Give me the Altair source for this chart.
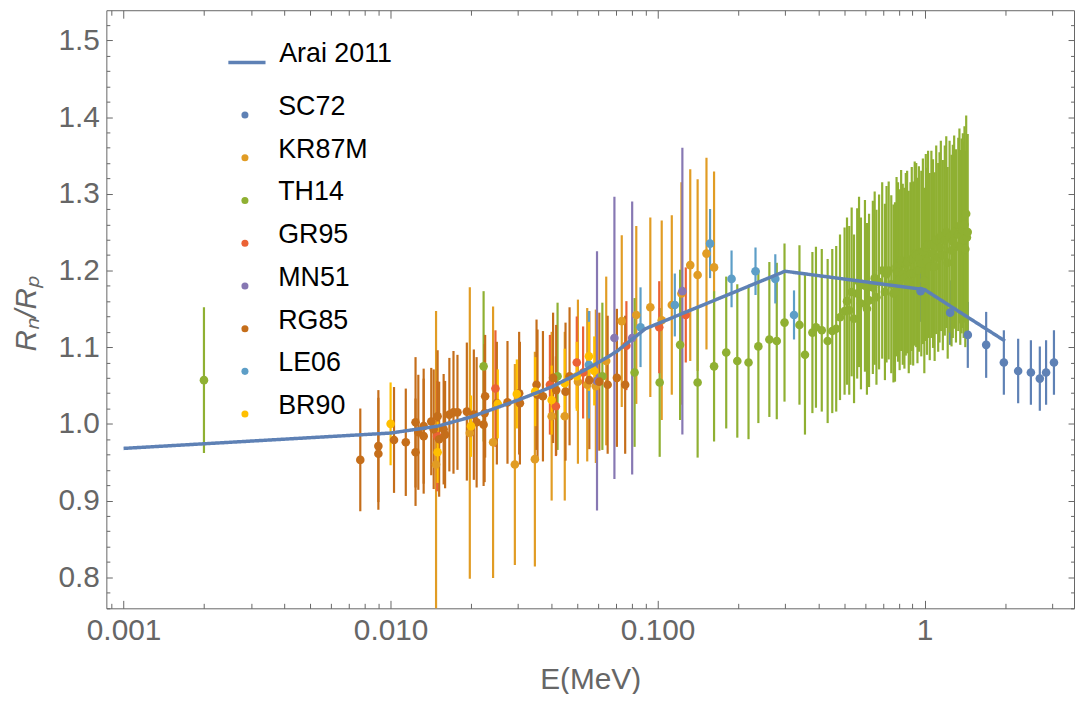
import altair as alt
import pandas as pd

# ---------------- data ----------------
SETS = ["SC72", "KR87M", "TH14", "GR95", "MN51", "RG85", "LE06", "BR90"]
COLORS = ["#5E81B5", "#E19C24", "#8FB032", "#EB6235", "#8778B3", "#C56E1A", "#5D9EC7", "#FFBF00"]

SC72_E = [0.966, 1.246, 1.451, 1.70, 1.98, 2.24, 2.50, 2.70, 2.85, 3.05]
SC72_R = [1.173, 1.145, 1.116, 1.103, 1.080, 1.069, 1.067, 1.059, 1.067, 1.080]
SC72_ERR = [0.040, 0.042, 0.043, 0.043, 0.042, 0.042, 0.042, 0.042, 0.042, 0.042]

KR87M_E = [0.0148, 0.0198, 0.0242, 0.0292, 0.0347, 0.0401, 0.0449, 0.0503, 0.0545, 0.0587,
           0.0642, 0.0734, 0.0832, 0.0939, 0.1036, 0.113, 0.1228, 0.1325, 0.1412, 0.1524, 0.1627]
KR87M_R = [0.947, 0.988, 0.976, 0.947, 0.954, 1.010, 1.010, 1.055, 1.051, 1.049,
           1.082, 1.134, 1.142, 1.152, 1.135, 1.155, 1.170, 1.207, 1.194, 1.222, 1.204]
KR87M_ERR = [0.200, 0.190, 0.177, 0.131, 0.140, 0.110, 0.110, 0.107, 0.100, 0.100,
             0.110, 0.112, 0.116, 0.117, 0.130, 0.117, 0.145, 0.125, 0.125, 0.125, 0.125]

TH14_E = [0.002, 0.0223, 0.0422, 0.0621, 0.082, 0.1018, 0.1214, 0.1412, 0.1627, 0.1807,
          0.1988, 0.219, 0.2384, 0.2621, 0.2794, 0.2987, 0.3398, 0.3563, 0.3799, 0.3917,
          0.4119, 0.4333, 0.4509, 0.4665, 0.482, 0.5014, 0.512, 0.522, 0.533, 0.544,
          0.559, 0.568, 0.5774, 0.5977, 0.608, 0.6192, 0.6398, 0.650, 0.660, 0.675,
          0.6935, 0.710, 0.720, 0.7335, 0.750, 0.7642, 0.7744, 0.785, 0.795, 0.806,
          0.8166, 0.828, 0.840, 0.850, 0.860, 0.872, 0.885, 0.895, 0.906, 0.918,
          0.930, 0.940, 0.952, 0.9716, 0.985, 0.9973, 1.010, 1.020, 1.030, 1.045,
          1.060, 1.075, 1.090, 1.105, 1.124, 1.137, 1.150, 1.170, 1.190, 1.205,
          1.220, 1.240, 1.261, 1.275, 1.290, 1.310, 1.3366, 1.350, 1.360, 1.375,
          1.390, 1.400, 1.410, 1.420, 1.431, 1.440, 1.450]
TH14_R = [1.057, 1.075, 1.062, 1.062, 1.067, 1.054, 1.103, 1.054, 1.075, 1.093,
          1.082, 1.080, 1.101, 1.110, 1.108, 1.132, 1.129, 1.090, 1.119, 1.126,
          1.122, 1.108, 1.121, 1.124, 1.139, 1.147, 1.160, 1.148, 1.172, 1.137,
          1.170, 1.185, 1.157, 1.180, 1.150, 1.161, 1.178, 1.190, 1.165, 1.185,
          1.200, 1.172, 1.195, 1.200, 1.182, 1.170, 1.172, 1.205, 1.198, 1.188,
          1.213, 1.195, 1.190, 1.208, 1.211, 1.185, 1.196, 1.215, 1.196, 1.222,
          1.220, 1.200, 1.215, 1.209, 1.225, 1.187, 1.230, 1.212, 1.234, 1.205,
          1.234, 1.222, 1.205, 1.240, 1.217, 1.230, 1.245, 1.220, 1.239, 1.250,
          1.210, 1.244, 1.226, 1.238, 1.250, 1.232, 1.247, 1.258, 1.230, 1.245,
          1.252, 1.240, 1.260, 1.228, 1.274, 1.243, 1.250]
TH14_ERR = [0.095, 0.098, 0.096, 0.096, 0.097, 0.097, 0.098, 0.098, 0.098, 0.099,
            0.100, 0.100, 0.100, 0.101, 0.102, 0.103, 0.104, 0.104, 0.105, 0.105,
            0.106, 0.107, 0.107, 0.108, 0.108, 0.109, 0.109, 0.110, 0.110, 0.110,
            0.111, 0.111, 0.112, 0.112, 0.112, 0.113, 0.113, 0.113, 0.114, 0.114,
            0.115, 0.115, 0.115, 0.116, 0.116, 0.116, 0.117, 0.117, 0.117, 0.118,
            0.118, 0.118, 0.118, 0.119, 0.119, 0.119, 0.119, 0.120, 0.120, 0.120,
            0.120, 0.121, 0.121, 0.121, 0.121, 0.121, 0.122, 0.122, 0.122, 0.122,
            0.122, 0.123, 0.123, 0.123, 0.123, 0.124, 0.124, 0.124, 0.124, 0.125,
            0.125, 0.125, 0.125, 0.126, 0.126, 0.126, 0.126, 0.127, 0.127, 0.127,
            0.127, 0.128, 0.128, 0.128, 0.128, 0.128, 0.128]

GR95_E = [0.01495, 0.0247, 0.0395, 0.0416, 0.0498, 0.0526, 0.0764, 0.1014, 0.1275]
GR95_R = [0.984, 1.046, 1.051, 1.023, 1.080, 1.067, 1.102, 1.126, 1.142]
GR95_ERR = [0.072, 0.076, 0.065, 0.065, 0.060, 0.060, 0.058, 0.060, 0.062]

MN51_E = [0.0593, 0.0689, 0.0803, 0.1238]
MN51_R = [1.056, 1.112, 1.112, 1.173]
MN51_ERR = [0.169, 0.184, 0.178, 0.187]

RG85_E = [0.0077, 0.009, 0.009, 0.0103, 0.0114, 0.0124, 0.0124, 0.0127, 0.0133, 0.0133,
          0.0142, 0.0145, 0.015, 0.0152, 0.0158, 0.016, 0.0166, 0.0172, 0.0178, 0.0193,
          0.0205, 0.021, 0.0223, 0.0225, 0.0226, 0.025, 0.0274, 0.0303, 0.0305, 0.0352,
          0.0355, 0.0372, 0.0406, 0.0417, 0.0452, 0.0468, 0.0555, 0.0605, 0.065, 0.0704,
          0.0756]
RG85_R = [0.953, 0.971, 0.961, 0.979, 0.976, 1.002, 0.963, 0.989, 0.984, 0.997,
          1.003, 0.993, 1.010, 0.980, 0.993, 0.986, 1.012, 1.015, 1.015, 1.016,
          1.012, 1.002, 0.999, 1.014, 1.036, 1.027, 1.028, 1.040, 1.027, 1.051,
          1.038, 1.036, 1.060, 1.044, 1.042, 1.062, 1.057, 1.055, 1.051, 1.060,
          1.051]
RG85_ERR = [0.067, 0.073, 0.073, 0.069, 0.070, 0.085, 0.070, 0.075, 0.075, 0.075,
            0.070, 0.078, 0.086, 0.075, 0.072, 0.070, 0.074, 0.080, 0.075, 0.090,
            0.085, 0.085, 0.080, 0.090, 0.080, 0.080, 0.080, 0.080, 0.080, 0.085,
            0.085, 0.085, 0.085, 0.085, 0.090, 0.090, 0.090, 0.090, 0.090, 0.090,
            0.090]

LE06_E = [0.0553, 0.0863, 0.116, 0.1572, 0.1892, 0.2326, 0.2759, 0.3242]
LE06_R = [1.077, 1.126, 1.155, 1.235, 1.189, 1.199, 1.189, 1.142]
LE06_ERR = [0.070, 0.052, 0.041, 0.045, 0.037, 0.031, 0.032, 0.032]

BR90_E = [0.010, 0.015, 0.020, 0.0252, 0.0297, 0.0348, 0.0401, 0.0449, 0.0498, 0.0553, 0.0579]
BR90_R = [1.000, 0.963, 0.997, 1.026, 1.039, 1.042, 1.031, 1.053, 1.062, 1.088, 1.069]
BR90_ERR = [0.054, 0.040, 0.040, 0.045, 0.045, 0.045, 0.045, 0.045, 0.045, 0.045, 0.045]

ARAI_E = [0.001, 0.01, 0.015, 0.02, 0.03, 0.04, 0.05, 0.06, 0.07, 0.09, 0.3, 1.0, 2.0]
ARAI_R = [0.968, 0.988, 0.997, 1.009, 1.031, 1.048, 1.065, 1.080, 1.094, 1.124, 1.199, 1.175, 1.108]

X_TICKS = [0.0009, 0.001, 0.002, 0.003, 0.004, 0.005, 0.006, 0.007, 0.008, 0.009,
           0.01, 0.02, 0.03, 0.04, 0.05, 0.06, 0.07, 0.08, 0.09,
           0.1, 0.2, 0.3, 0.4, 0.5, 0.6, 0.7, 0.8, 0.9, 1, 2, 3]
Y_TICKS = [0.76, 0.78, 0.8, 0.82, 0.84, 0.86, 0.88, 0.9, 0.92, 0.94, 0.96, 0.98,
           1.0, 1.02, 1.04, 1.06, 1.08, 1.1, 1.12, 1.14, 1.16, 1.18, 1.2, 1.22, 1.24,
           1.26, 1.28, 1.3, 1.32, 1.34, 1.36, 1.38, 1.4, 1.42, 1.44, 1.46, 1.48, 1.5, 1.52]

# ---------------- tables ----------------
series = {
    "SC72": (SC72_E, SC72_R, SC72_ERR),
    "KR87M": (KR87M_E, KR87M_R, KR87M_ERR),
    "TH14": (TH14_E, TH14_R, TH14_ERR),
    "GR95": (GR95_E, GR95_R, GR95_ERR),
    "MN51": (MN51_E, MN51_R, MN51_ERR),
    "RG85": (RG85_E, RG85_R, RG85_ERR),
    "LE06": (LE06_E, LE06_R, LE06_ERR),
    "BR90": (BR90_E, BR90_R, BR90_ERR),
}
frames = []
for name in SETS:
    e, r, err = series[name]
    frames.append(pd.DataFrame({"E": e, "R": r, "err": err, "set": name}))
df = pd.concat(frames, ignore_index=True)
df["lo"] = df["R"] - df["err"]
df["hi"] = df["R"] + df["err"]
line_df = pd.DataFrame({"E": ARAI_E, "R": ARAI_R, "model": "Arai 2011"})

# ---------------- styling ----------------
FONT = "Liberation Sans"
GRAY = "#666666"
x_scale = alt.Scale(type="log", domain=[0.000862, 3.626], nice=False)
y_scale = alt.Scale(domain=[0.7595, 1.5393], nice=False, zero=False)

X_MAJOR = "abs(log(datum.value)/LN10 - round(log(datum.value)/LN10)) < 1e-6"
Y_MAJOR = "abs(datum.value*10 - round(datum.value*10)) < 1e-6"


def x_axis(orient, labels):
    kw = dict(
        orient=orient, values=X_TICKS, domain=False, grid=False,
        tickSize={"condition": {"test": X_MAJOR, "value": -8}, "value": -5},
        tickColor=GRAY, tickWidth=1,
    )
    if labels:
        kw.update(
            labelExpr=X_MAJOR + " ? (datum.value >= 1 ? format(datum.value, 'd') : format(datum.value, '.3f')) : ''",
            labelFont=FONT, labelFontSize=30, labelColor=GRAY, labelPadding=15,
            labelOverlap=False, labelFlush=False, labelBound=False,
            title="E(MeV)", titleFont=FONT, titleFontSize=30, titleFontWeight="normal",
            titleColor=GRAY, titleX=487, titleY=72, titleBaseline="middle",
        )
    else:
        kw.update(labels=False, title=None)
    return alt.Axis(**kw)


def y_axis(orient, labels):
    kw = dict(
        orient=orient, values=Y_TICKS, domain=False, grid=False,
        tickSize={"condition": {"test": Y_MAJOR, "value": -6}, "value": -3.5},
        tickColor=GRAY, tickWidth=1,
    )
    if labels:
        kw.update(
            labelExpr=Y_MAJOR + " ? format(datum.value, '.1f') : ''",
            labelFont=FONT, labelFontSize=30, labelColor=GRAY, labelPadding=13,
            labelOverlap=False, labelFlush=False, labelBound=False,
            title="Rₙ/Rₚ", titleFont=FONT, titleFontSize=30, titleFontWeight="normal",
            titleFontStyle="italic", titleColor=GRAY, titleX=-80, titleY=305,
            titleBaseline="middle", titleAngle=270,
        )
    else:
        kw.update(labels=False, title=None)
    return alt.Axis(**kw)


color_enc = alt.Color(
    "set:N",
    scale=alt.Scale(domain=SETS, range=COLORS),
    legend=alt.Legend(
        orient="none", legendX=126, legendY=92, title=None,
        symbolType="circle", symbolSize=50, symbolStrokeWidth=0, symbolOpacity=1,
        labelFont=FONT, labelFontSize=27, labelColor="black", labelOffset=20,
        labelBaseline="alphabetic", rowPadding=15,
    ),
)

rules = alt.Chart(df).mark_rule(strokeWidth=2.2, clip=True).encode(
    x=alt.X("E:Q", scale=x_scale, axis=x_axis("bottom", True)),
    y=alt.Y("lo:Q", scale=y_scale, axis=y_axis("left", True)),
    y2="hi:Q",
    color=color_enc,
)

points = alt.Chart(df).mark_circle(size=75, opacity=1, clip=True).encode(
    x=alt.X("E:Q", scale=x_scale, axis=x_axis("top", False)),
    y=alt.Y("R:Q", scale=y_scale, axis=y_axis("right", False)),
    color=color_enc,
)

line = alt.Chart(line_df).mark_line(color="#5E81B5", strokeWidth=3.5, clip=True).encode(
    x=alt.X("E:Q", scale=x_scale, axis=None),
    y=alt.Y("R:Q", scale=y_scale, axis=None),
    strokeDash=alt.StrokeDash(
        "model:N",
        scale=alt.Scale(domain=["Arai 2011"], range=[[1, 0]]),
        legend=alt.Legend(
            orient="none", legendX=121, legendY=32, title=None,
            symbolType="stroke", symbolSize=1400, symbolStrokeWidth=3.5,
            symbolStrokeColor="#5E81B5",
            labelFont=FONT, labelFontSize=27, labelColor="black", labelOffset=12,
            labelBaseline="alphabetic",
        ),
    ),
)

chart = (
    alt.layer(rules, points, line)
    .resolve_axis(x="independent", y="independent")
    .properties(
        width=974, height=602,
        autosize=alt.AutoSizeParams(type="none"),
        padding={"left": 99, "top": 0, "right": 2, "bottom": 84},
    )
    .configure_view(stroke=GRAY, strokeWidth=1)
)

chart.save("out.html", embed_options={"renderer": "svg", "actions": False})
